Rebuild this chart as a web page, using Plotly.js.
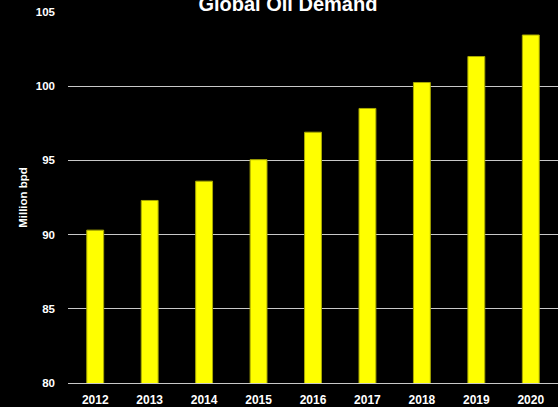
<!DOCTYPE html>
<html>
<head>
<meta charset="utf-8">
<script src="https://cdn.plot.ly/plotly-3.0.1.min.js"></script>
<style>html,body{margin:0;padding:0;background:#000;}#chart{width:558px;height:407px;}</style>
</head>
<body>
<div id="chart"></div>
<script>
const years = ["2012","2013","2014","2015","2016","2017","2018","2019","2020"];
const demand = [90.3, 92.3, 93.6, 95.05, 96.9, 98.5, 100.25, 102.0, 103.45];
const yTicks = [80, 85, 90, 95, 100, 105];

const font = "Liberation Sans, Arial, sans-serif";

Plotly.newPlot("chart", [{
  type: "bar",
  x: years,
  y: demand,
  marker: {color: "#ffff00", line: {color: "#a8a800", width: 1}},
  hoverinfo: "skip"
}], {
  width: 558,
  height: 407,
  paper_bgcolor: "#000000",
  plot_bgcolor: "#000000",
  margin: {l: 68, r: 0, t: 12, b: 24, pad: 0},
  bargap: 0.69,
  showlegend: false,
  title: {
    text: "<b>Global Oil Demand</b>",
    font: {family: font, size: 20, color: "#ffffff"},
    x: 0.516, xanchor: "center", xref: "container",
    y: 0.99, yanchor: "middle", yref: "container"
  },
  xaxis: {
    type: "category",
    showgrid: false,
    showline: true,
    linecolor: "#c8c8c8",
    linewidth: 1,
    zeroline: false,
    ticks: "",
    ticklabelstandoff: 6,
    tickfont: {family: font, size: 12, color: "#ffffff", weight: "bold"}
  },
  yaxis: {
    range: [80, 105],
    tickvals: yTicks,
    ticktext: yTicks.map(String),
    showgrid: true,
    gridcolor: "#c8c8c8",
    gridwidth: 1,
    zeroline: false,
    showline: false,
    ticks: "",
    ticklabelstandoff: 12,
    tickfont: {family: font, size: 11.5, color: "#ffffff", weight: "bold"},
    title: {text: "<b>Million bpd</b>", font: {family: font, size: 11.5, color: "#ffffff"}, standoff: 5}
  }
}, {staticPlot: true, displayModeBar: false});
</script>
</body>
</html>
